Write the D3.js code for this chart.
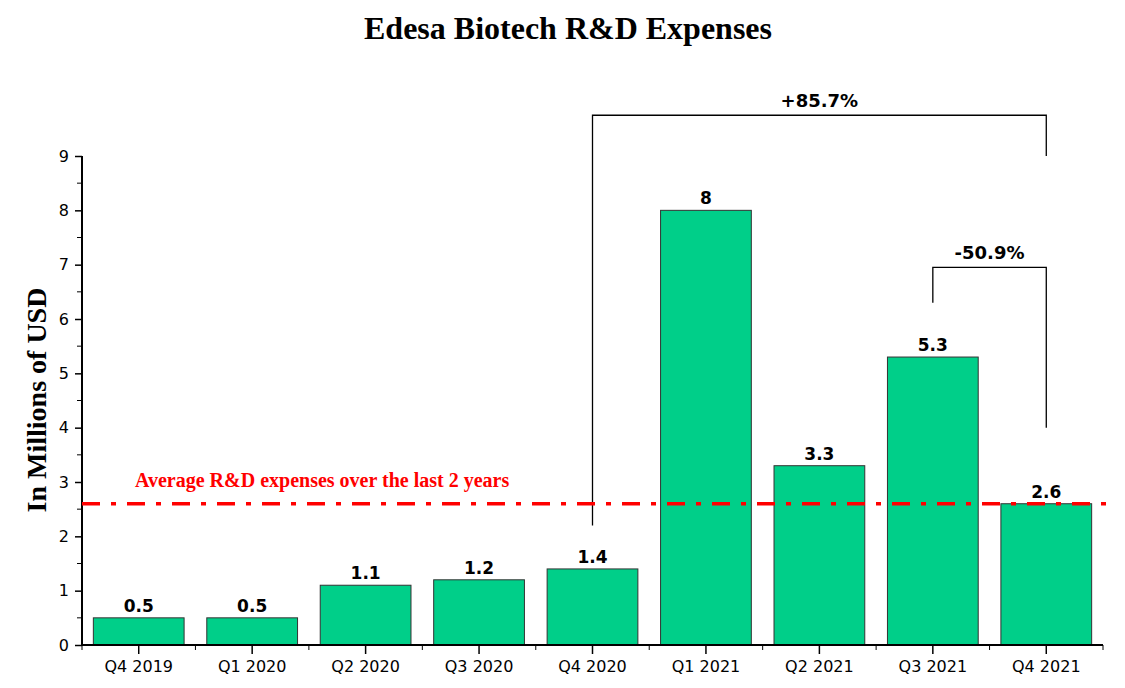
<!DOCTYPE html>
<meta charset="utf-8" />
<script src="https://d3js.org/d3.v7.min.js"></script>
<style>
	body { margin: 0; background: #fff; }
</style>
<div id="chart"></div>
<script>
	// data
	var quarters = ['Q4 2019', 'Q1 2020', 'Q2 2020', 'Q3 2020', 'Q4 2020', 'Q1 2021', 'Q2 2021', 'Q3 2021', 'Q4 2021'];
	var expenses = [0.5, 0.5, 1.1, 1.2, 1.4, 8, 3.3, 5.3, 2.6];
	var yTicks = [0, 1, 2, 3, 4, 5, 6, 7, 8, 9];
	var average = 2.6;
	var averageLabel = 'Average R&D expenses over the last 2 years';
	// brackets: from, to, label, left end, top, right end
	var brackets = [
		{ from: 'Q4 2020', to: 'Q4 2021', label: '+85.7%', y0: 2.2, top: 9.75, y1: 9.0 },
		{ from: 'Q3 2021', to: 'Q4 2021', label: '-50.9%', y0: 6.3, top: 6.95, y1: 4.0 }
	];

	var width = 1125, height = 688;
	var mLeft = 82, mRight = 1103, mBottom = 645, mTop = 156;

	var svg = d3.select('#chart').append('svg')
		.attr('width', width)
		.attr('height', height);

	var x = d3.scaleBand().domain(quarters).range([mLeft, mRight]).paddingInner(0.2).paddingOuter(0.1);
	var y = d3.scaleLinear().domain([0, 9]).range([mBottom, mTop]);
	var cx = function (q) { return x(q) + x.bandwidth() / 2; };
	var step = x.step();

	// title
	svg.append('text')
		.attr('x', 568).attr('y', 39)
		.attr('text-anchor', 'middle')
		.style('font-family', 'Liberation Serif')
		.style('font-weight', 'bold')
		.style('font-size', '32px')
		.text('Edesa Biotech R&D Expenses');

	// y label
	svg.append('text')
		.attr('transform', 'translate(46,400)rotate(-90)')
		.attr('text-anchor', 'middle')
		.style('font-family', 'Liberation Serif')
		.style('font-weight', 'bold')
		.style('font-size', '28px')
		.text('In Millions of USD');

	// bars
	svg.append('g').selectAll('rect')
		.data(expenses)
		.enter().append('rect')
		.attr('x', function (d, i) { return x(quarters[i]); })
		.attr('y', function (d) { return y(d); })
		.attr('width', x.bandwidth())
		.attr('height', function (d) { return y(0) - y(d); })
		.style('fill', '#00cf89')
		.style('stroke', '#333')
		.style('stroke-width', 1);

	// bar values
	svg.append('g').selectAll('text')
		.data(expenses)
		.enter().append('text')
		.attr('x', function (d, i) { return cx(quarters[i]); })
		.attr('y', function (d) { return y(d) - 6; })
		.attr('text-anchor', 'middle')
		.style('font-family', 'DejaVu Sans')
		.style('font-weight', 'bold')
		.style('font-size', '17px')
		.text(function (d) { return d; });

	// y axis
	var yAxis = svg.append('g').attr('transform', 'translate(' + mLeft + ',0)');
	yAxis.call(d3.axisLeft(y).tickValues(yTicks).tickSize(7).tickPadding(6).tickFormat(d3.format('d')));
	yAxis.append('g').selectAll('line')
		.data(yTicks.slice(0, -1).map(function (t) { return t + 0.5; }))
		.enter().append('line')
		.attr('x1', -5).attr('x2', 0)
		.attr('y1', function (d) { return y(d); })
		.attr('y2', function (d) { return y(d); })
		.style('stroke', '#000');
	yAxis.select('.domain').attr('d', 'M0,' + (mBottom + 1) + 'V' + mTop).style('stroke-width', 2);
	yAxis.selectAll('.tick line').style('stroke-width', 1.5);
	yAxis.selectAll('text')
		.style('font-family', 'DejaVu Sans')
		.style('font-size', '16px')
		.style('fill', '#000');

	// x axis
	var xAxis = svg.append('g').attr('transform', 'translate(0,' + mBottom + ')');
	xAxis.call(d3.axisBottom(x).tickSize(9).tickPadding(7));
	xAxis.select('.domain').attr('d', 'M' + (mLeft - 1) + ',0H' + mRight).style('stroke-width', 2);
	xAxis.selectAll('.tick line').style('stroke-width', 1.5);
	xAxis.append('g').selectAll('line')
		.data(d3.range(quarters.length + 1))
		.enter().append('line')
		.attr('x1', function (i) { return mLeft + i * step; })
		.attr('x2', function (i) { return mLeft + i * step; })
		.attr('y1', 0).attr('y2', 5)
		.style('stroke', '#000');
	xAxis.selectAll('text')
		.style('font-family', 'DejaVu Sans')
		.style('font-size', '16px')
		.style('fill', '#000');

	// brackets
	brackets.forEach(function (b) {
		var x0 = cx(b.from), x1 = cx(b.to);
		svg.append('path')
			.attr('d', 'M' + x0 + ',' + y(b.y0) + 'V' + y(b.top) + 'H' + x1 + 'V' + y(b.y1))
			.style('fill', 'none')
			.style('stroke', '#000')
			.style('stroke-width', 1.3);
		svg.append('text')
			.attr('x', (x0 + x1) / 2)
			.attr('y', y(b.top) - 8)
			.attr('text-anchor', 'middle')
			.style('font-family', 'DejaVu Sans')
			.style('font-weight', 'bold')
			.style('font-size', '18px')
			.text(b.label);
	});

	// average line
	svg.append('line')
		.attr('x1', mLeft).attr('x2', mRight + 3)
		.attr('y1', y(average)).attr('y2', y(average))
		.style('stroke', '#ff0000')
		.style('stroke-width', 3.5)
		.style('stroke-dasharray', '18,11,5,11');

	svg.append('text')
		.attr('x', 135).attr('y', y(average) - 17)
		.style('font-family', 'Liberation Serif')
		.style('font-weight', 'bold')
		.style('font-size', '20px')
		.style('fill', '#ff0000')
		.text(averageLabel);
</script>
